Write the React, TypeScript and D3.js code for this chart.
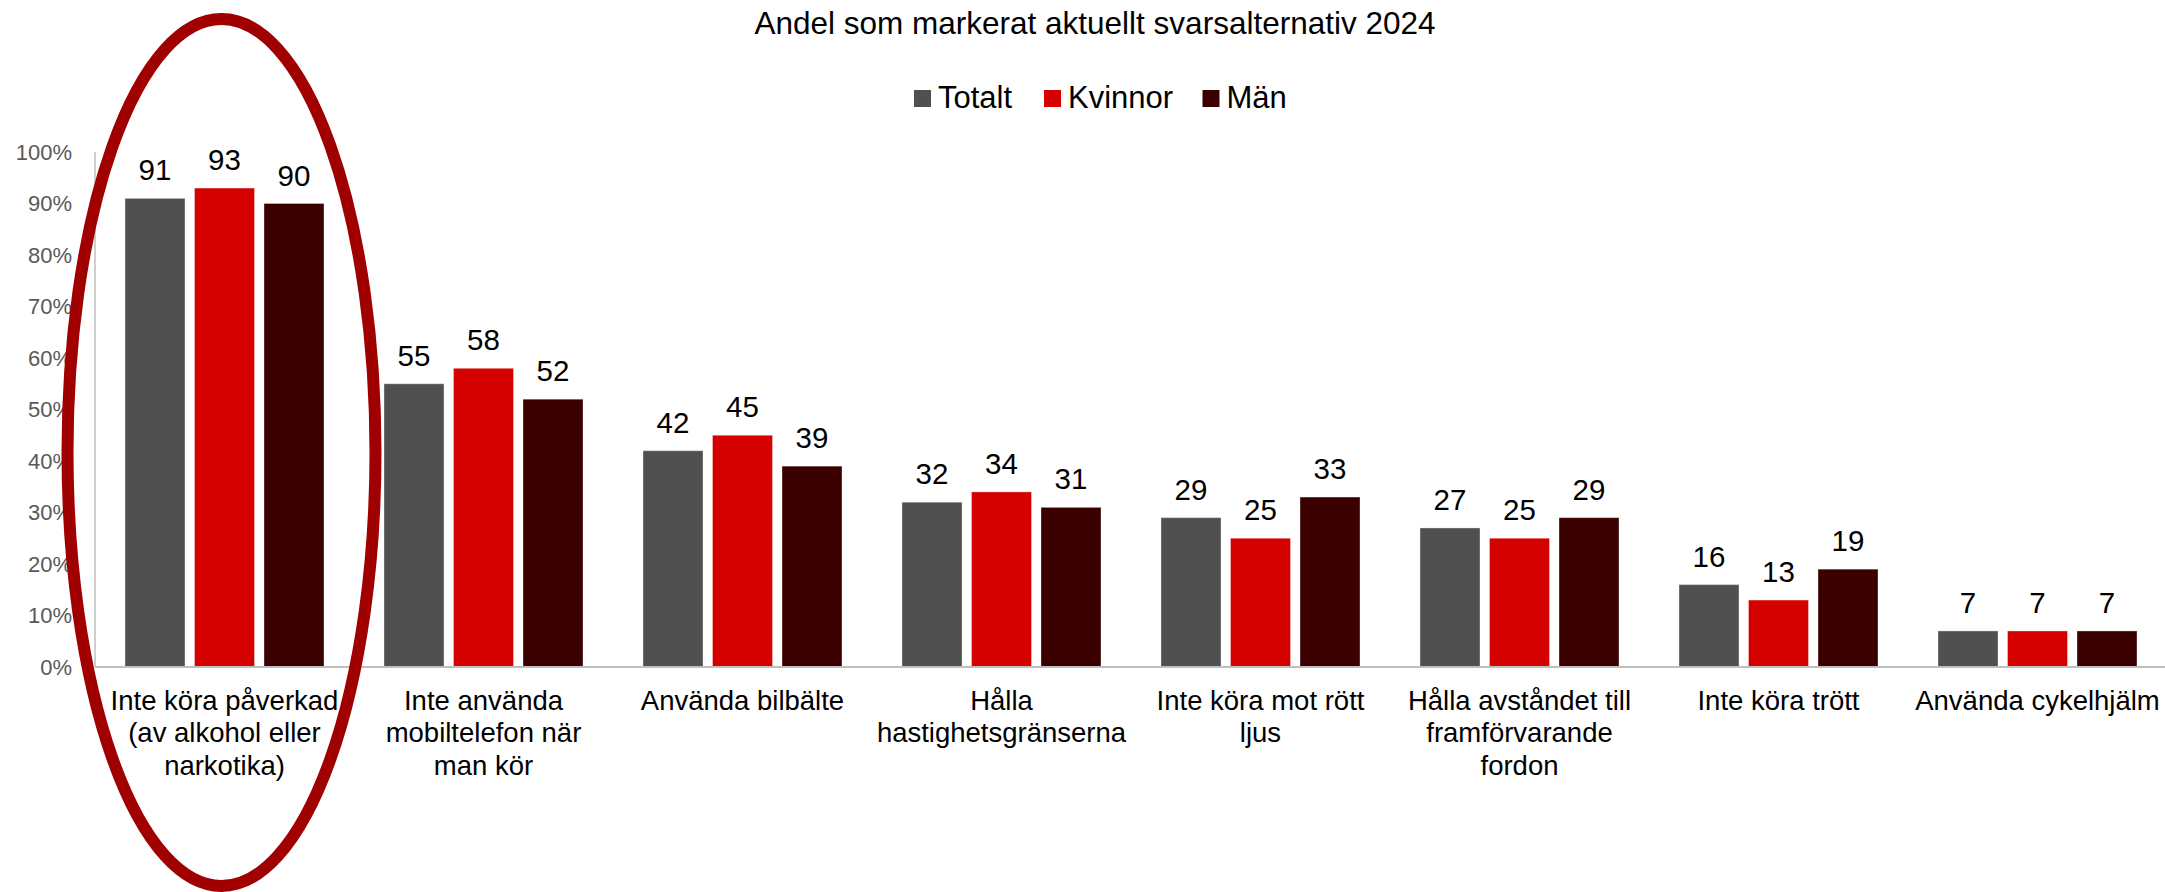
import React from "react";
import * as d3 from "d3";

const categories: string[] = [
  "Inte köra påverkad\n(av alkohol eller\nnarkotika)",
  "Inte använda\nmobiltelefon när\nman kör",
  "Använda bilbälte",
  "Hålla\nhastighetsgränserna",
  "Inte köra mot rött\nljus",
  "Hålla avståndet till\nframförvarande\nfordon",
  "Inte köra trött",
  "Använda cykelhjälm",
];

const seriesNames: string[] = ["Totalt", "Kvinnor", "Män"];
const totalt: number[] = [91, 55, 42, 32, 29, 27, 16, 7];
const kvinnor: number[] = [93, 58, 45, 34, 25, 25, 13, 7];
const man: number[] = [90, 52, 39, 31, 33, 29, 19, 7];
const yTicks: number[] = [0, 10, 20, 30, 40, 50, 60, 70, 80, 90, 100];
const subtitle = "Andel som markerat aktuellt svarsalternativ 2024";

const colors = ["#505050", "#D50000", "#3A0000"];
const FONT = "'Liberation Sans', Arial, Helvetica, sans-serif";

const W = 2165;
const H = 892;
const X0 = 95;
const X1 = 2167;
const Y0 = 667;
const Y1 = 152;

export default function App() {
  const seriesValues = [totalt, kvinnor, man];
  const x = d3.scaleBand<string>().domain(categories).range([X0, X1]).paddingInner(0).paddingOuter(0);
  const xs = d3
    .scaleBand<string>()
    .domain(seriesNames)
    .range([-99.5, 99.5])
    .paddingInner(0.1367)
    .paddingOuter(0);
  const y = d3.scaleLinear().domain([0, 100]).range([Y0, Y1]);

  const legendX = [914, 1044, 1202.5];

  return (
    <svg
      width={W}
      height={H}
      style={{ position: "absolute", left: 0, top: 0, background: "#fff" }}
      fontFamily={FONT}
    >
      <rect x={0} y={0} width={W} height={H} fill="#fff" />
      <text x={1095} y={34} textAnchor="middle" fontSize={31.5} fill="#000">
        {subtitle}
      </text>

      {seriesNames.map((s, i) => (
        <g key={s}>
          <rect x={legendX[i]} y={90} width={17} height={17} fill={colors[i]} />
          <text x={legendX[i] + 24} y={108} fontSize={31} fill="#000">
            {s}
          </text>
        </g>
      ))}

      {yTicks.map((t) => (
        <text
          key={t}
          x={72}
          y={y(t)}
          dy="0.35em"
          textAnchor="end"
          fontSize={22}
          fill="#595959"
        >
          {t + "%"}
        </text>
      ))}

      {categories.map((c, ci) => {
        const cx = (x(c) as number) + x.bandwidth() / 2;
        return (
          <g key={c}>
            {seriesNames.map((s, si) => {
              const v = seriesValues[si][ci];
              const bx = cx + (xs(s) as number);
              return (
                <g key={s}>
                  <rect
                    x={bx}
                    y={y(v)}
                    width={xs.bandwidth()}
                    height={Y0 - y(v)}
                    fill={colors[si]}
                    stroke="rgba(255,255,255,0.35)"
                    strokeWidth={1}
                  />
                  <text
                    x={bx + xs.bandwidth() / 2}
                    y={y(v) - 18}
                    textAnchor="middle"
                    fontSize={29.5}
                    fill="#000"
                  >
                    {v}
                  </text>
                </g>
              );
            })}
            {c.split("\n").map((line, li) => (
              <text
                key={li}
                x={cx}
                y={710 + li * 32.3}
                textAnchor="middle"
                fontSize={27.5}
                fill="#000"
              >
                {line}
              </text>
            ))}
          </g>
        );
      })}

      <line x1={X0} x2={X0} y1={Y1} y2={Y0} stroke="#BFBFBF" strokeWidth={1.5} />
      <line x1={X0} x2={W} y1={Y0} y2={Y0} stroke="#BFBFBF" strokeWidth={2} />

      <ellipse
        cx={(x(categories[0]) as number) + x.bandwidth() / 2 - 3}
        cy={452.5}
        rx={154}
        ry={433.5}
        fill="none"
        stroke="#A00000"
        strokeWidth={12}
      />
    </svg>
  );
}
